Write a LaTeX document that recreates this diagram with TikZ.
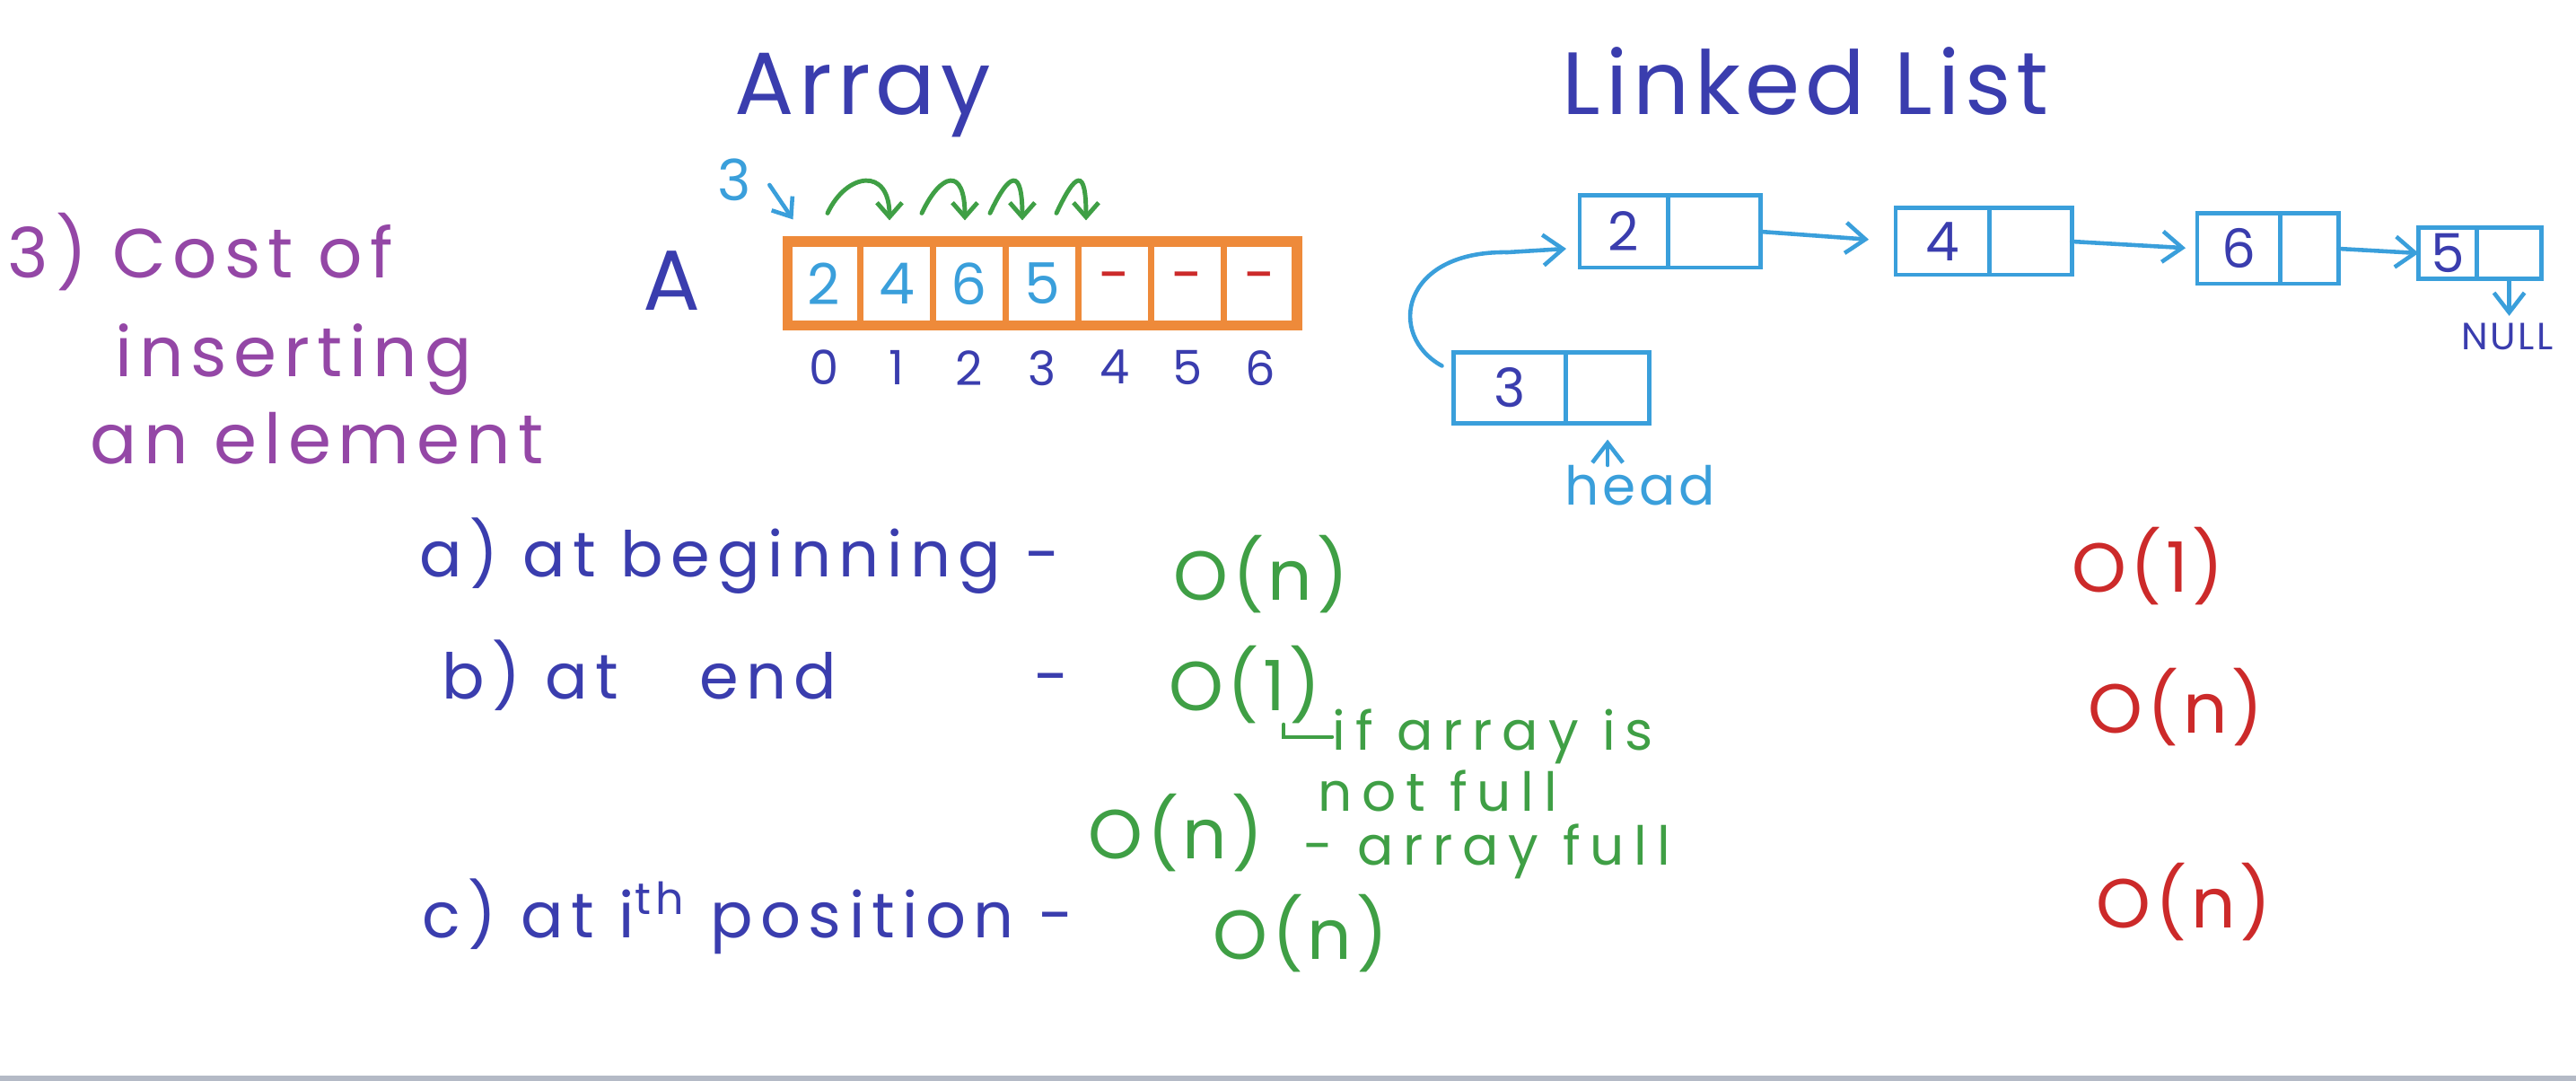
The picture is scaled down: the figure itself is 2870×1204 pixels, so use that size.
\documentclass[tikz,border=0pt]{standalone}
\usepackage{fontspec}
\setmainfont{Poppins}[LetterSpace=6]
\usetikzlibrary{arrows.meta,positioning}
\definecolor{inkBlue}{HTML}{3A3DAE}
\definecolor{inkPurple}{HTML}{9447A6}
\definecolor{inkGreen}{HTML}{3F9F45}
\definecolor{inkRed}{HTML}{CC2A2A}
\definecolor{inkSky}{HTML}{3A9FDB}
\definecolor{inkOrange}{HTML}{EE8A3A}
\definecolor{frameGray}{HTML}{B4BAC6}
\tikzset{
    acell/.style={draw=inkOrange, line width=2pt, minimum width=0.81cm, minimum height=0.93cm, inner sep=0pt, outer sep=0pt, font=\fontsize{18}{20}\selectfont},
    lcell/.style={draw=inkSky, line width=1.4pt, inner sep=0pt, outer sep=0pt, text=inkBlue, font=\fontsize{17}{20}\selectfont},
    tblue/.style={text=inkBlue, font=\fontsize{20}{24}\selectfont, inner sep=0pt},
    tline/.style={text=inkBlue, font=\fontsize{20}{24}\selectfont\addfontfeatures{LetterSpace=12}, inner sep=0pt, anchor=base west},
    tgreen/.style={text=inkGreen, font=\fontsize{22}{26}\selectfont, inner sep=0pt},
    tnote/.style={text=inkGreen, font=\fontsize{17}{19}\selectfont\addfontfeatures{LetterSpace=18}, inner sep=0pt, anchor=base west},
    tred/.style={text=inkRed, font=\fontsize{22}{26}\selectfont, inner sep=0pt},
    tpurple/.style={text=inkPurple, font=\fontsize{22}{26}\selectfont\addfontfeatures{LetterSpace=10}, inner sep=0pt, anchor=base west},
    qline/.style={-{Straight Barb[length=2.2mm, width=3.4mm]}, draw=inkSky, line width=1.3pt, line cap=round},
    garc/.style={-{Straight Barb[length=1.6mm, width=2.8mm]}, draw=inkGreen, line width=1.4pt, line cap=round},
    gline/.style={draw=inkGreen, line width=1.3pt, line cap=round}
}
\begin{document}
\begin{tikzpicture}[x=0.01cm, y=0.01cm]
\fill[white] (0,0) rectangle (2870,1204);
\fill[frameGray] (0,0) rectangle (2870,6);
\useasboundingbox (0,0) rectangle (2870,1204);

\node[tblue, font=\fontsize{28}{32}\selectfont, anchor=base] (arrT) at (961,1076) {Array};
\node[tblue, font=\fontsize{28}{32}\selectfont, anchor=base west] (listT) at (1740,1076) {Linked List};

\node[tpurple] (cost1) at (8,894) {3) Cost of};
\node[tpurple] (cost2) at (128,784) {inserting};
\node[tpurple] (cost3) at (100,687) {an element};

% array
\node[tblue, font=\fontsize{27}{30}\selectfont] (arrA) at (748,891) {A};
\foreach \i/\v/\c in {0/2/inkSky,1/4/inkSky,2/6/inkSky,3/5/inkSky,4/-/inkRed,5/-/inkRed,6/-/inkRed}{
    \node[acell, text=\c] (c\i) at ({918+81*\i},888) {\v};
    \node[tblue, font=\fontsize{15}{18}\selectfont, below=0.27cm of c\i] (ix\i) {\i};
}
\draw[inkOrange, line width=3.4pt] (c0.north west) rectangle (c6.south east);
\node[tblue, text=inkSky, font=\fontsize{18}{20}\selectfont] (new3) at (818,1004) {3};
\draw[qline, -{Straight Barb[length=1.8mm, width=2.8mm]}] ([shift={(0.2cm,-0.06cm)}]new3.east) -- ([shift={(0.06cm,0.25cm)}]c0.north west);
\foreach \a/\b/\sa/\sb in {0/1/0.04/-0.08, 1/2/0.28/-0.05, 2/3/0.23/-0.22, 3/4/0.16/-0.32}{
    \draw[garc] ([shift={(\sa cm,0.32cm)}]c\a.north) to[out=65, in=90, out distance=0.5cm, in distance=0.6cm] ([shift={(\sb cm,0.24cm)}]c\b.north);
}

% linked list
\foreach \n/\x/\y/\dw/\pw/\hh in {2/1809/946/0.98/1.03/0.80, 4/2164/935/1.04/0.92/0.74, 6/2494/927/0.92/0.65/0.78, 5/2727/922/0.65/0.72/0.57, 3/1682/772/1.25/0.93/0.79}{
    \node[lcell, minimum width=\dw cm, minimum height=\hh cm] (d\n) at (\x,\y) {\n};
    \node[lcell, minimum width=\pw cm, minimum height=\hh cm, right=0pt of d\n] (p\n) {};
}
\draw[qline, shorten >=0.3cm] (p2.east) -- (d4.west);
\draw[qline, shorten >=0.13cm] (p4.east) -- (d6.west);
\draw[qline] (p6.east) -- (d5.west);
\draw[qline] ([shift={(-0.13cm,-0.15cm)}]d3.north west) .. controls (1545,830) and (1560,925) .. (1680,923) -- ([shift={(-0.15cm,-0.19cm)}]d2.west);
\node[tblue, text=inkSky, font=\fontsize{17}{20}\selectfont, anchor=base] (headL) at (1827,641) {head};
\draw[qline, shorten >=0.18cm] (headL.north -| p3.south) -- (p3.south);
\node[tblue, font=\fontsize{12}{14}\selectfont, anchor=base west] (nullL) at (2742,814) {NULL};
\draw[qline, shorten >=0.08cm] (p5.south) -- (p5.south |- nullL.north);

% costs
\node[tline] (qa) at (467,561) {a) at beginning -};
\node[tgreen] (qaA) at (1405,564) {O(n)};
\node[tline] (qb) at (492,425) {b) at\hspace{0.9cm}end\hspace{2.2cm}-};
\node[tgreen] (qbA) at (1387,441) {O(1)};
\node[tnote] (qbN1) at (1484,368) {if array is};
\draw[gline] ([xshift=0.43cm]qbA.south) |- (qbN1.west);
\node[tnote] (qbN2) at (1468,300) {not full};
\node[tgreen] (qbB) at (1310,276) {O(n)};
\node[tnote] (qbN3) at (1452,240) {- array full};
\node[tline] (qc) at (470,159) {c) at i\textsuperscript{th} position -};
\node[tgreen] (qcA) at (1449,164) {O(n)};
\node[tred] (la) at (2393,573) {O(1)};
\node[tred] (lb) at (2424,416) {O(n)};
\node[tred] (lc) at (2433,199) {O(n)};
\end{tikzpicture}
\end{document}
